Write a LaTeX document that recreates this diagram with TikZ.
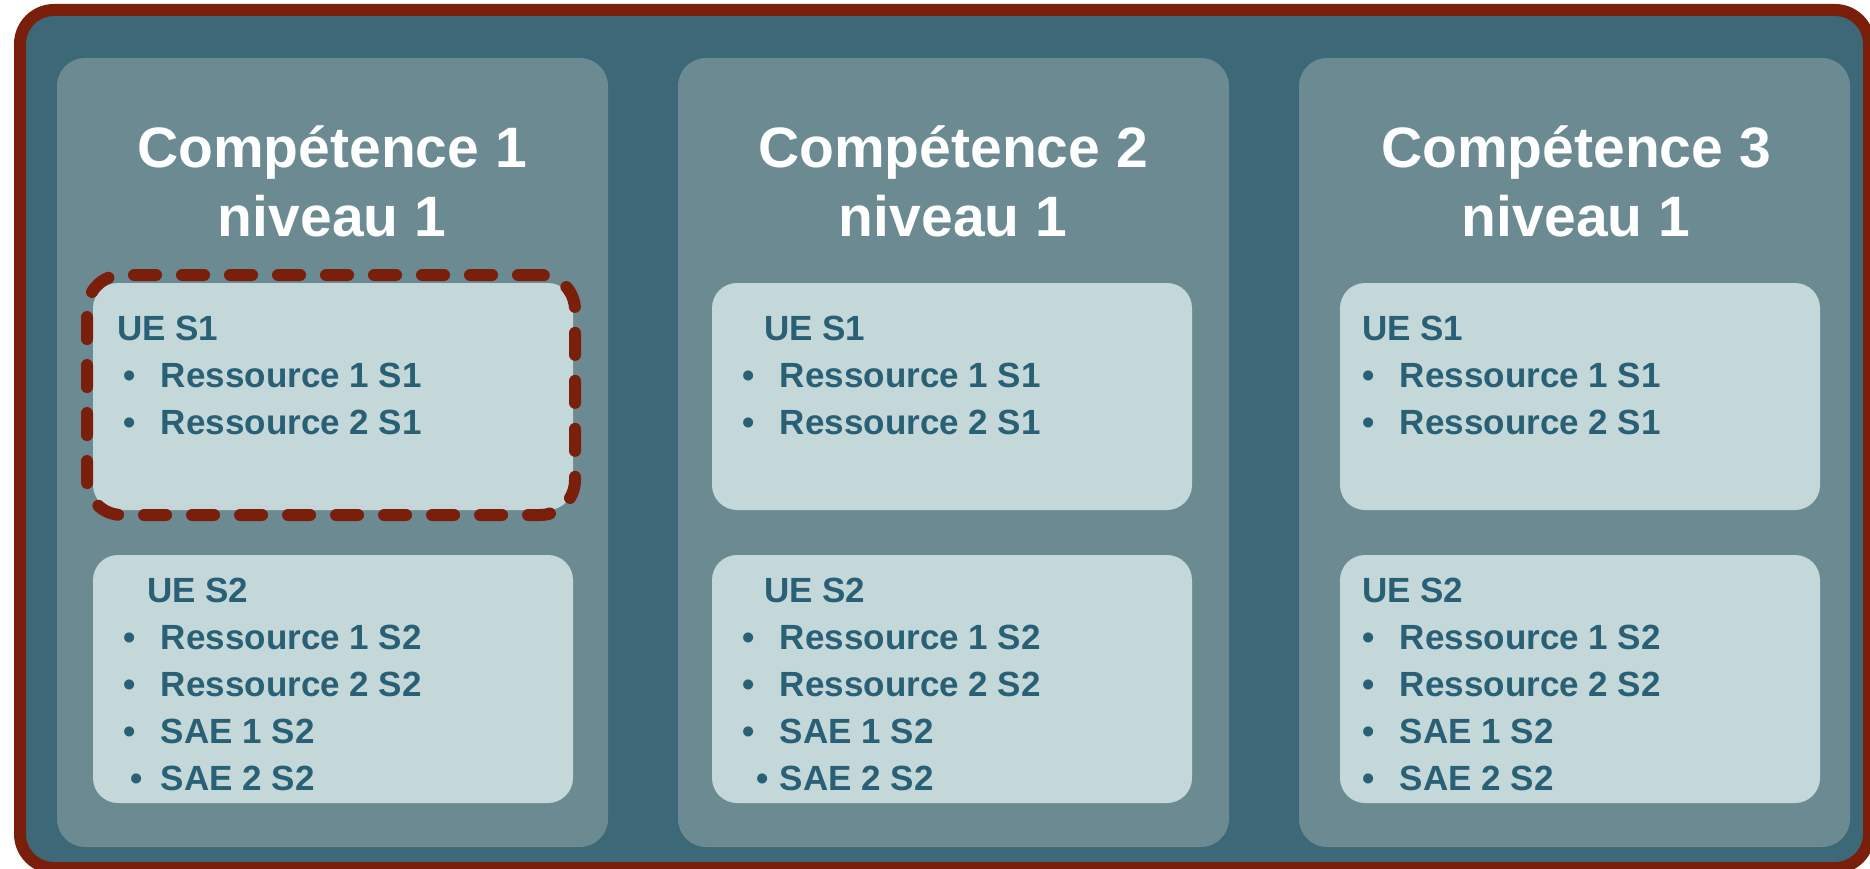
\documentclass[tikz,border=0pt]{standalone}
\usepackage{fontspec}
\setmainfont{Liberation Sans}
\usepackage{tikz}
\usetikzlibrary{positioning}
\usepackage{xcolor}
\definecolor{framered}{RGB}{122,31,12}
\definecolor{deepteal}{RGB}{61,104,119}
\definecolor{panelteal}{RGB}{107,138,146}
\definecolor{boxteal}{RGB}{196,216,218}
\definecolor{inkteal}{RGB}{41,96,117}
\newcommand{\itm}[2][0pt]{\hspace*{#1}\makebox[\dimexpr 38pt-#1\relax][l]{\textbullet}#2}

\begin{document}
\begin{tikzpicture}[x=1pt, y=-1pt,
  every node/.style={inner sep=0pt, outer sep=0pt},
  frame/.style={rectangle, draw=framered, line width=12pt, fill=deepteal, rounded corners=34pt, minimum width=1849pt, minimum height=858pt},
  panel/.style={rectangle, fill=panelteal, rounded corners=28pt, minimum width=551pt, minimum height=789pt},
  unitbox/.style={rectangle, fill=boxteal, rounded corners=25pt, minimum width=480pt},
  hilite/.style={rectangle, draw=framered, line width=12pt, dash pattern=on 22pt off 26pt, line cap=round, rounded corners=35pt, minimum width=488pt, minimum height=240pt},
  title/.style={font=\fontsize{57}{69}\selectfont\bfseries, text=white, align=center, anchor=base},
  listtext/.style={font=\fontsize{35}{47}\selectfont\bfseries, text=inkteal, align=left, anchor=base west}]
\useasboundingbox (0,0) rectangle (1870,869);
%

% OUTER FRAME
\node [frame, anchor=north west] (outer) at (20,10) {};

% COMPETENCE 1
\node [panel, anchor=north west] (comp1) at (57,58) {};
\node [title] (title1) at (332,236) {Compétence 1\\niveau 1};
% UE S1
\node [unitbox, minimum height=227pt, anchor=north west] (ue1s1) at (93,283) {};
\node [listtext] (list1s1) at (123,434) {\hspace*{-6pt}UE S1\\ \itm{Ressource 1 S1}\\ \itm{Ressource 2 S1}};
% UE S2
\node [unitbox, minimum height=248pt, anchor=north west] (ue1s2) at (93,555) {};
\node [listtext] (list1s2) at (123,790) {\hspace*{24pt}UE S2\\ \itm{Ressource 1 S2}\\ \itm{Ressource 2 S2}\\ \itm{SAE 1 S2}\\ \itm[7pt]{SAE 2 S2}};
% highlighted unit
\node [hilite, anchor=north west] (mark) at (87,275) {};

% COMPETENCE 2
\node [panel, right=70pt of comp1] (comp2) {};
\node [title] (title2) at (953,236) {Compétence 2\\niveau 1};
% UE S1
\node [unitbox, minimum height=227pt, anchor=north west] (ue2s1) at (712,283) {};
\node [listtext] (list2s1) at (742,434) {\hspace*{22pt}UE S1\\ \itm{Ressource 1 S1}\\ \itm{Ressource 2 S1}};
% UE S2
\node [unitbox, minimum height=248pt, anchor=north west] (ue2s2) at (712,555) {};
\node [listtext] (list2s2) at (742,790) {\hspace*{22pt}UE S2\\ \itm{Ressource 1 S2}\\ \itm{Ressource 2 S2}\\ \itm{SAE 1 S2}\\ \itm[14pt]{SAE 2 S2}};

% COMPETENCE 3
\node [panel, right=70pt of comp2] (comp3) {};
\node [title] (title3) at (1576,236) {Compétence 3\\niveau 1};
% UE S1
\node [unitbox, minimum height=227pt, anchor=north west] (ue3s1) at (1340,283) {};
\node [listtext] (list3s1) at (1362,434) {UE S1\\ \itm{Ressource 1 S1}\\ \itm{Ressource 2 S1}};
% UE S2
\node [unitbox, minimum height=248pt, anchor=north west] (ue3s2) at (1340,555) {};
\node [listtext] (list3s2) at (1362,790) {UE S2\\ \itm{Ressource 1 S2}\\ \itm{Ressource 2 S2}\\ \itm{SAE 1 S2}\\ \itm{SAE 2 S2}};
\end{tikzpicture}
\end{document}
